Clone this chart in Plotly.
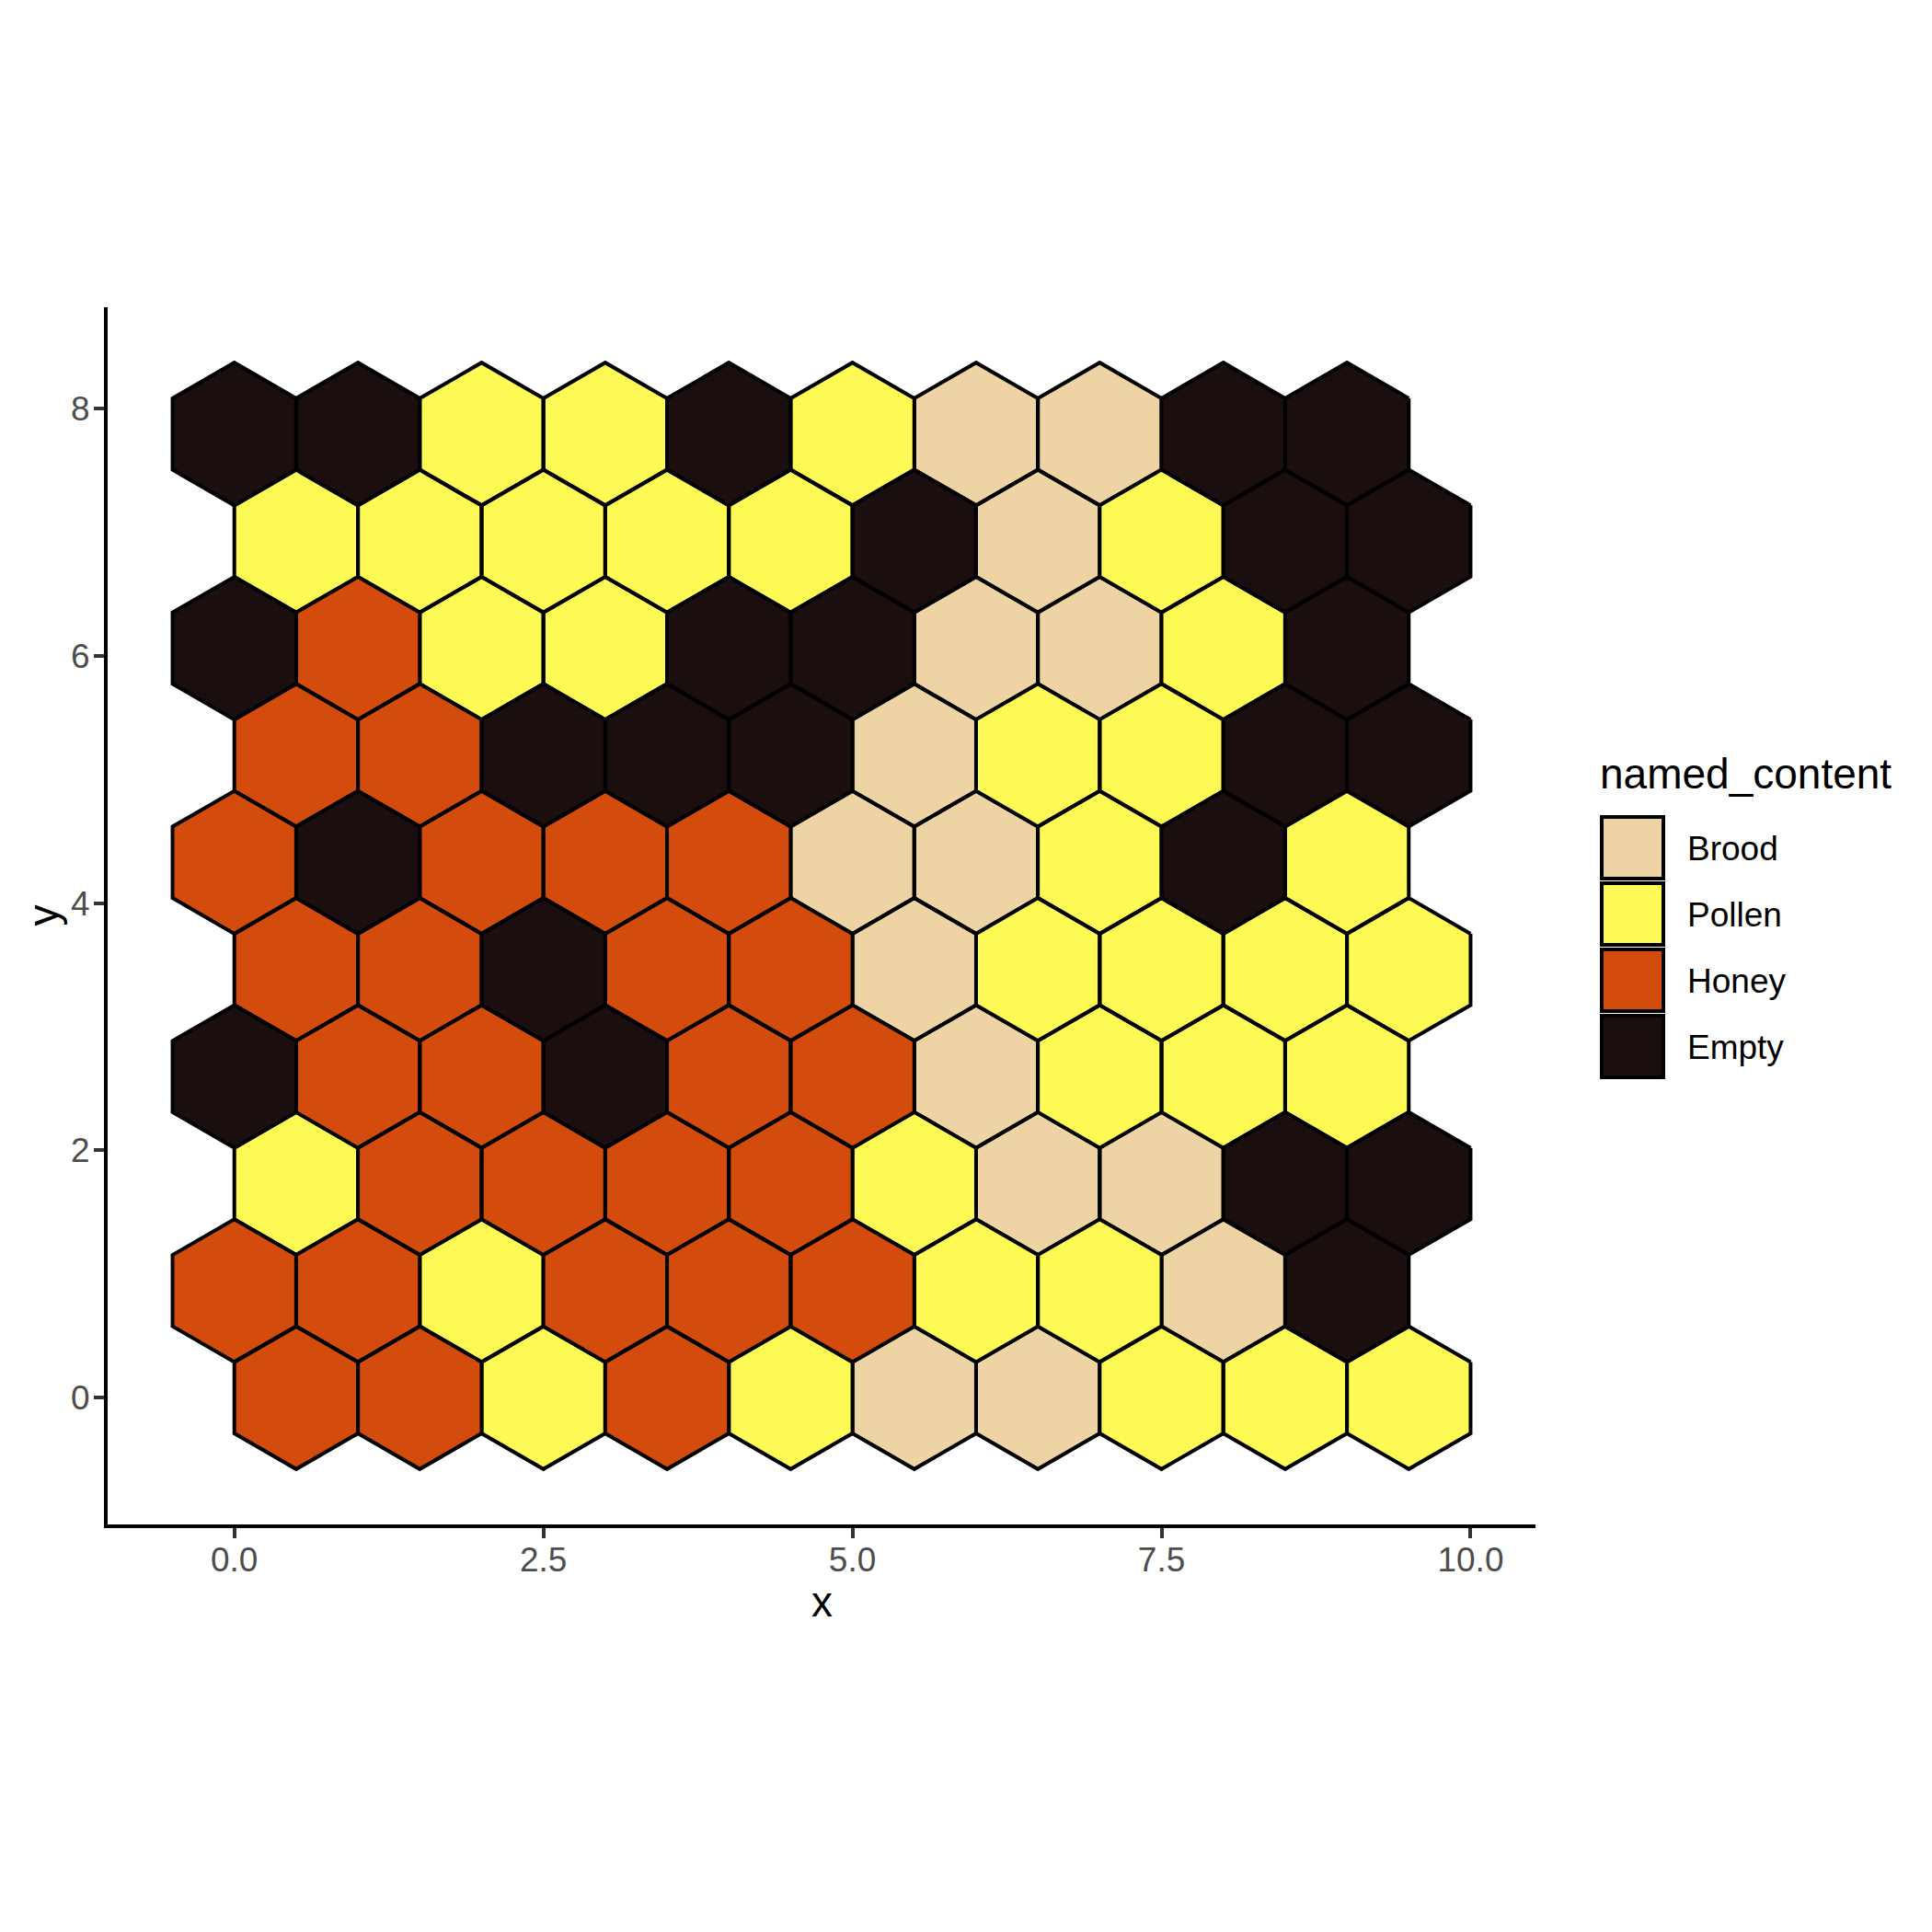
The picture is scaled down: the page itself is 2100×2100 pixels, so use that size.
import math
import plotly.graph_objects as go

# ---- data ----
categories = ["Brood", "Pollen", "Honey", "Empty"]
cat_colors = ["#EED4A5", "#FEFA55", "#D34C0D", "#1A0E0E"]
code_map = {"B": "Brood", "P": "Pollen", "H": "Honey", "E": "Empty"}

row_y = [0.0, 0.866, 1.732, 2.598, 3.464, 4.330, 5.196, 6.062, 6.928, 7.794]
x_even_rows = [0.5, 1.5, 2.5, 3.5, 4.5, 5.5, 6.5, 7.5, 8.5, 9.5]
x_odd_rows = [0, 1, 2, 3, 4, 5, 6, 7, 8, 9]

# content per row, bottom (y=0) to top
row_content = [
    "HHPHPBBPPP",
    "HHPHHHPPBE",
    "PHHHHPBBEE",
    "EHHEHHBPPP",
    "HHEHHBPPPP",
    "HEHHHBBPEP",
    "HHEEEBPPEE",
    "EHPPEEBBPE",
    "PPPPPEBPEE",
    "EEPPEPBBEE",
]

x_ticks = [0, 2.5, 5, 7.5, 10]
x_tick_labels = ["0.0", "2.5", "5.0", "7.5", "10.0"]
y_ticks = [0, 2, 4, 6, 8]
y_tick_labels = ["0", "2", "4", "6", "8"]

# ---- geometry ----
W = H = 2100
L, R, T, B = 117, 1669, 334, 1657
R_HEX = 1 / math.sqrt(3)
angles = [30, 90, 150, 210, 270, 330, 30]

polys = {c: ([], []) for c in categories}
for r, (yc, row) in enumerate(zip(row_y, row_content)):
    xs = x_even_rows if r % 2 == 0 else x_odd_rows
    for xc, code in zip(xs, row):
        cat = code_map[code]
        px, py = polys[cat]
        for a in angles:
            px.append(xc + R_HEX * math.cos(math.radians(a)))
            py.append(yc + R_HEX * math.sin(math.radians(a)))
        px.append(None)
        py.append(None)

fig = go.Figure()
for cat, col in zip(categories, cat_colors):
    px, py = polys[cat]
    fig.add_trace(go.Scatter(
        x=px, y=py, mode="lines", fill="toself", fillcolor=col,
        line=dict(color="black", width=4), name=cat, showlegend=False,
        hoverinfo="skip",
    ))

FONT = "Liberation Sans, Arial, Helvetica, sans-serif"

def pxx(p):
    return (p - L) / (R - L)

def pxy(p):
    return (B - p) / (B - T)

shapes = []
annotations = []
# legend
annotations.append(dict(text="named_content", x=pxx(1737), y=pxy(841), xref="paper", yref="paper",
                        xanchor="left", yanchor="middle", showarrow=False,
                        font=dict(family=FONT, size=46, color="black")))
for i, (cat, col) in enumerate(zip(categories, cat_colors)):
    top = 886 + 72 * i
    shapes.append(dict(type="rect", xref="paper", yref="paper",
                       x0=pxx(1741), x1=pxx(1808), y0=pxy(top + 2), y1=pxy(top + 69),
                       fillcolor=col, line=dict(color="black", width=4)))
    annotations.append(dict(text=cat, x=pxx(1832), y=pxy(top + 36), xref="paper", yref="paper",
                            xanchor="left", yanchor="middle", showarrow=False,
                            font=dict(family=FONT, size=37, color="black")))
# axis titles
annotations.append(dict(text="x", x=0.5, y=pxy(1741), xref="paper", yref="paper",
                        xanchor="center", yanchor="middle", showarrow=False,
                        font=dict(family=FONT, size=46, color="black")))
annotations.append(dict(text="y", x=pxx(46), y=0.5, xref="paper", yref="paper",
                        xanchor="center", yanchor="middle", showarrow=False, textangle=-90,
                        font=dict(family=FONT, size=46, color="black")))

fig.update_layout(
    width=W, height=H,
    margin=dict(l=L, r=W - R, t=T, b=H - B, pad=0),
    paper_bgcolor="white", plot_bgcolor="white",
    showlegend=False,
    shapes=shapes, annotations=annotations,
    xaxis=dict(range=[-1.025, 10.525], showgrid=False, zeroline=False,
               showline=True, linecolor="black", linewidth=4,
               ticks="outside", ticklen=11, tickwidth=4, tickcolor="#333333",
               tickvals=x_ticks, ticktext=x_tick_labels, ticklabelstandoff=-8,
               tickfont=dict(family=FONT, size=37, color="#4D4D4D")),
    yaxis=dict(range=[-1.025, 8.819], showgrid=False, zeroline=False,
               showline=True, linecolor="black", linewidth=4,
               ticks="outside", ticklen=11, tickwidth=4, tickcolor="#333333",
               tickvals=y_ticks, ticktext=y_tick_labels, ticklabelstandoff=-3,
               tickfont=dict(family=FONT, size=37, color="#4D4D4D")),
)

fig.write_html("out.html")
